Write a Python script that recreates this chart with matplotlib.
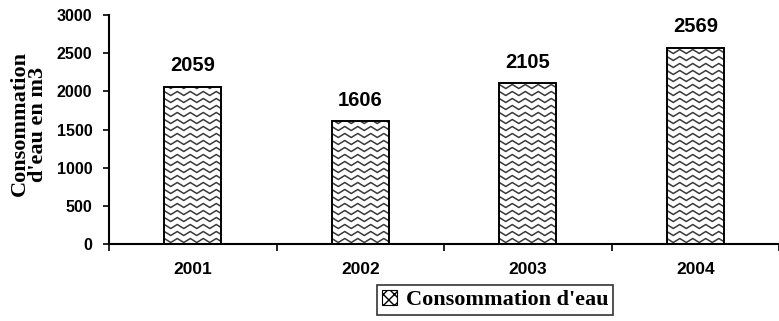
import numpy as np
import matplotlib
matplotlib.use("Agg")
import matplotlib.pyplot as plt
from matplotlib.patches import Rectangle
from matplotlib import font_manager

annees = ["2001", "2002", "2003", "2004"]
consommation = [2059, 1606, 2105, 2569]
yticks = [0, 500, 1000, 1500, 2000, 2500, 3000]

installed = {f.name for f in font_manager.fontManager.ttflist}
narrow = "Liberation Sans Narrow" if "Liberation Sans Narrow" in installed else "Liberation Sans"
serif = "Liberation Serif"

fig = plt.figure(figsize=(7.79, 3.21), dpi=100)
ax = fig.add_axes([109 / 779, 77 / 321, 670 / 779, 229 / 321])

x = np.arange(len(annees))
largeur = 0.34
bars = ax.bar(x, consommation, width=largeur, color="white", edgecolor="none",
              zorder=2)

ax.set_xlim(-0.5, len(annees) - 0.5)
ax.set_ylim(0, 3000)

# zigzag fill drawn inside each bar, clipped to the rectangle
px_x = 1.0 / 167.5         # data units per pixel on x
px_y = 3000 / 229.0        # data units per pixel on y
periode = 13 * px_x
pas = 7 * px_y
ampl = 2 * px_y
for b in bars:
    x0, w, h = b.get_x(), b.get_width(), b.get_height()
    xs = np.arange(x0 - periode, x0 + w + periode, periode / 2)
    zig = np.where(np.arange(len(xs)) % 2 == 0, ampl, -ampl)
    for y0 in np.arange(pas / 2, h + pas, pas):
        ln, = ax.plot(xs, y0 + zig, color="#3a3a3a", lw=1.1, zorder=3)
        ln.set_clip_path(b)

# bar outlines on top of the fill
ax.bar(x, consommation, width=largeur, fill=False, edgecolor="black",
       linewidth=1.4, zorder=4)

for xi, v in zip(x, consommation):
    ax.text(xi, v + 150, str(v), ha="center", va="bottom",
            fontsize=14.5, fontweight="bold", family=narrow)

ax.set_xticks(x)
ax.set_xticklabels(annees)
ax.set_xticks(np.arange(-0.5, len(annees)), minor=True)
ax.tick_params(axis="x", which="major", length=0, pad=13)
ax.tick_params(axis="x", which="minor", length=5, width=1.2, direction="out")
ax.set_yticks(yticks)
ax.tick_params(axis="y", length=4, width=1.2, direction="out", pad=8)
for lab in ax.get_xticklabels():
    lab.set_fontfamily(narrow)
    lab.set_fontweight("bold")
    lab.set_fontsize(12.5)
for lab in ax.get_yticklabels():
    lab.set_fontfamily(narrow)
    lab.set_fontweight("bold")
    lab.set_fontsize(11.5)

for s in ["top", "right"]:
    ax.spines[s].set_visible(False)
ax.spines["left"].set_linewidth(1.5)
ax.spines["bottom"].set_linewidth(1.5)

fig.text(29 / 779, 1 - 124 / 321, "Consommation\nd'eau en m3", rotation=90,
         ha="center", va="center", family=serif, fontweight="bold",
         fontsize=16, linespacing=0.9)

poignee = Rectangle((0, 0), 1, 1, facecolor="white", edgecolor="black",
                    hatch="xxx", linewidth=0.8)
leg = fig.legend([poignee], ["Consommation d'eau"], loc="center",
                 bbox_to_anchor=(495 / 779, 1 - 300 / 321), frameon=True,
                 fancybox=False, edgecolor="black", handlelength=0.7,
                 handleheight=0.7, handletextpad=0.4, borderpad=0.2,
                 borderaxespad=0,
                 prop={"family": serif, "weight": "bold", "size": 16})
leg.get_frame().set_linewidth(1.2)

fig.savefig("out.png", dpi=100)
